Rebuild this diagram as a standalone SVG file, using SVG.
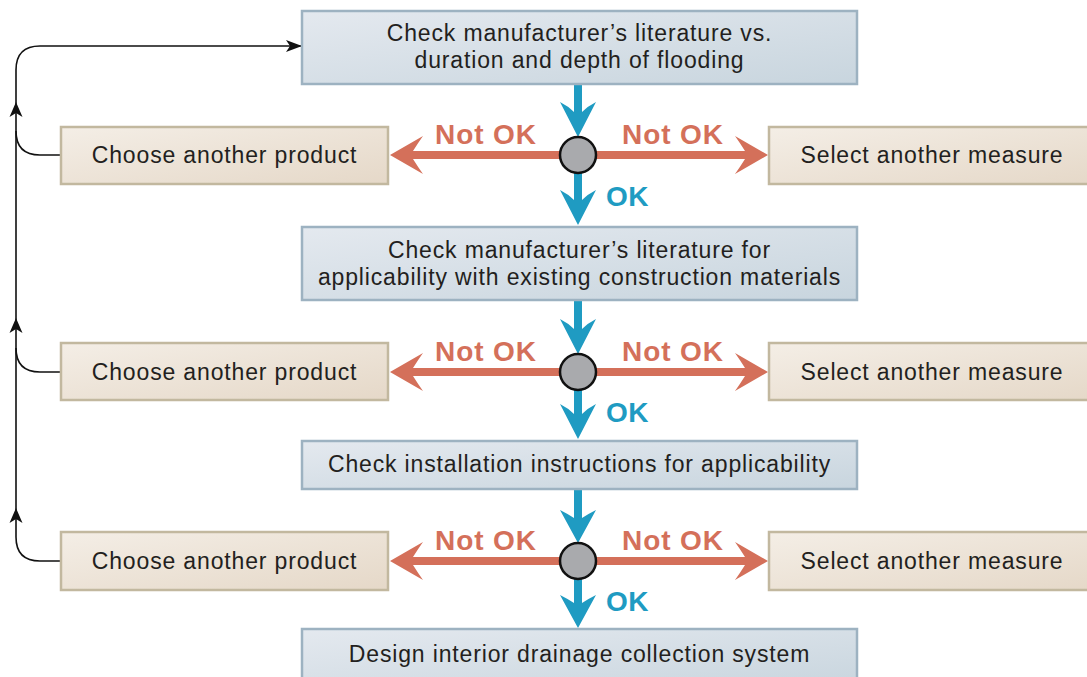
<svg xmlns="http://www.w3.org/2000/svg" width="1087" height="677" viewBox="0 0 1087 677">
<defs>
<linearGradient id="gb" x1="0" y1="0" x2="1" y2="1">
<stop offset="0" stop-color="#e4e9ef"/><stop offset="1" stop-color="#c8d5de"/>
</linearGradient>
<linearGradient id="gt" x1="0" y1="0" x2="1" y2="1">
<stop offset="0" stop-color="#f4eee6"/><stop offset="1" stop-color="#e5d8c8"/>
</linearGradient>
<marker id="ah" viewBox="0 0 16 12" refX="15" refY="6" markerWidth="16" markerHeight="12" markerUnits="userSpaceOnUse" orient="auto">
<path d="M0,0 L16,6 L0,12 L4,6 Z" fill="#111"/>
</marker>
</defs>
<style>
.bb{fill:url(#gb);stroke:#9db2c1;stroke-width:2.5}
.tb{fill:url(#gt);stroke:#c2b89f;stroke-width:2.5}
.t{font-family:"Liberation Sans",Arial,sans-serif;font-size:23px;fill:#231f20;text-anchor:middle;letter-spacing:0.85px}
.no{font-family:"Liberation Sans",Arial,sans-serif;font-size:28px;font-weight:bold;fill:#d4705a;text-anchor:middle;letter-spacing:0.9px}
.ok{font-family:"Liberation Sans",Arial,sans-serif;font-size:28px;font-weight:bold;fill:#1f9bc2;letter-spacing:0.5px}
.blue{fill:#1f9bc2}
.red{fill:#d4705a}
.dot{fill:#a9aaad;stroke:#111;stroke-width:2.5}
.loop{fill:none;stroke:#111;stroke-width:1.6}
</style>
<g id="connectors">
<path class="loop" d="M61,561 L40,561 Q16,561 16,537 L16,70 Q16,46 40,46 L301,46" marker-end="url(#ah)"/>
<path class="loop" d="M61,372 L40,372 Q16,372 16,348"/>
<path class="loop" d="M61,155 L40,155 Q16,155 16,131"/>
<path d="M16,102 L22.5,117 L16,113 L9.5,117 Z" fill="#111"/>
<path d="M16,318 L22.5,333 L16,329 L9.5,333 Z" fill="#111"/>
<path d="M16,508 L22.5,523 L16,519 L9.5,523 Z" fill="#111"/>
<g id="row1-arrows">
<path class="blue" d="M574,84 L574,112 Q568,106 560,102 L578,137 L596,102 Q588,106 582,112 L582,84 Z"/>
<path class="blue" d="M574,170 L574,200 Q568,194 560,190 L578,225 L596,190 Q588,194 582,200 L582,170 Z"/>
<path class="red" d="M578,151 L413,151 Q418,143 423,136 L390,155 L423,174 Q418,167 413,159 L578,159 Z"/>
<path class="red" d="M578,151 L745,151 Q740,143 735,136 L768,155 L735,174 Q740,167 745,159 L578,159 Z"/>
<circle class="dot" cx="578" cy="155" r="18"/>
</g>
<g id="row2-arrows">
<path class="blue" d="M574,300 L574,329 Q568,323 560,319 L578,354 L596,319 Q588,323 582,329 L582,300 Z"/>
<path class="blue" d="M574,387 L574,414 Q568,408 560,404 L578,439 L596,404 Q588,408 582,414 L582,387 Z"/>
<path class="red" d="M578,368 L413,368 Q418,360 423,353 L390,372 L423,391 Q418,384 413,376 L578,376 Z"/>
<path class="red" d="M578,368 L745,368 Q740,360 735,353 L768,372 L735,391 Q740,384 745,376 L578,376 Z"/>
<circle class="dot" cx="578" cy="372" r="18"/>
</g>
<g id="row3-arrows">
<path class="blue" d="M574,489 L574,518 Q568,514 560,510 L578,543 L596,510 Q588,514 582,518 L582,489 Z"/>
<path class="blue" d="M574,576 L574,603 Q568,599 560,595 L578,628 L596,595 Q588,599 582,603 L582,576 Z"/>
<path class="red" d="M578,557 L413,557 Q418,549 423,542 L390,561 L423,580 Q418,573 413,565 L578,565 Z"/>
<path class="red" d="M578,557 L745,557 Q740,549 735,542 L768,561 L735,580 Q740,573 745,565 L578,565 Z"/>
<circle class="dot" cx="578" cy="561" r="18"/>
</g>
<g id="labels">
<text class="no" x="486" y="144">Not OK</text>
<text class="no" x="673" y="144">Not OK</text>
<text class="ok" x="606" y="206">OK</text>
<text class="no" x="486" y="361">Not OK</text>
<text class="no" x="673" y="361">Not OK</text>
<text class="ok" x="606" y="422">OK</text>
<text class="no" x="486" y="550">Not OK</text>
<text class="no" x="673" y="550">Not OK</text>
<text class="ok" x="606" y="611">OK</text>
</g>
</g>
<g id="check-duration">
<rect class="bb" x="302" y="11" width="555" height="73"/>
<text class="t" x="579.5" y="41">Check manufacturer’s literature vs.</text>
<text class="t" x="579.5" y="68">duration and depth of flooding</text>
</g>
<g id="check-materials">
<rect class="bb" x="302" y="227" width="555" height="73"/>
<text class="t" x="579.5" y="258">Check manufacturer’s literature for</text>
<text class="t" x="579.5" y="285">applicability with existing construction materials</text>
</g>
<g id="check-installation">
<rect class="bb" x="302" y="441" width="555" height="48"/>
<text class="t" x="579.5" y="472">Check installation instructions for applicability</text>
</g>
<g id="design-drainage">
<rect class="bb" x="302" y="629" width="555" height="60"/>
<text class="t" x="579.5" y="662">Design interior drainage collection system</text>
</g>
<g id="choose-1">
<rect class="tb" x="61" y="127" width="327" height="57"/>
<text class="t" x="224.5" y="163">Choose another product</text>
</g>
<g id="select-1">
<rect class="tb" x="769" y="127" width="330" height="57"/>
<text class="t" x="932" y="163">Select another measure</text>
</g>
<g id="choose-2">
<rect class="tb" x="61" y="343" width="327" height="57"/>
<text class="t" x="224.5" y="380">Choose another product</text>
</g>
<g id="select-2">
<rect class="tb" x="769" y="343" width="330" height="57"/>
<text class="t" x="932" y="380">Select another measure</text>
</g>
<g id="choose-3">
<rect class="tb" x="61" y="532" width="327" height="58"/>
<text class="t" x="224.5" y="569">Choose another product</text>
</g>
<g id="select-3">
<rect class="tb" x="769" y="532" width="330" height="58"/>
<text class="t" x="932" y="569">Select another measure</text>
</g>
</svg>
